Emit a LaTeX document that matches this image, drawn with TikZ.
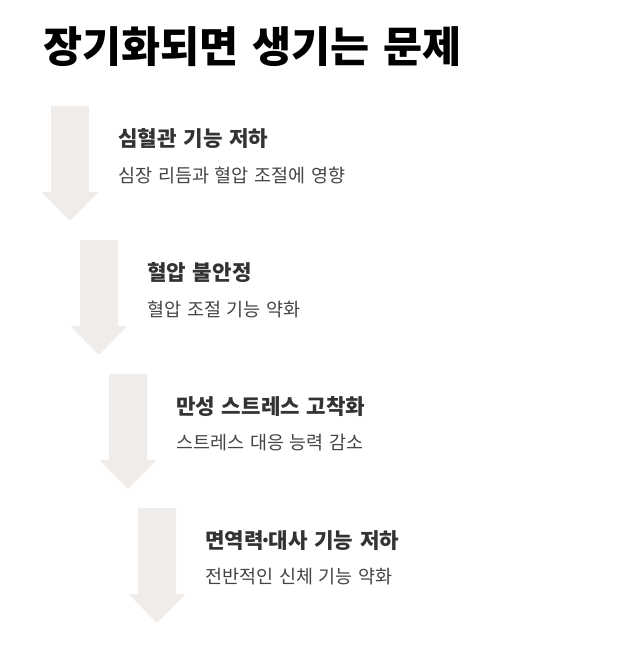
\documentclass[tikz,border=0pt]{standalone}
\usepackage{fontspec}
\setmainfont{Noto Sans CJK KR}[WordSpace=1.4]
\usepackage{tikz}
\usetikzlibrary{positioning}
\definecolor{arrowgray}{RGB}{239, 236, 234}
\definecolor{headgray}{RGB}{51, 51, 51}
\definecolor{subgray}{RGB}{68, 68, 68}
\tikzset{
    stepdown/.pic={
        \fill[arrowgray] (-19,0) -- (19,0) -- (19,86) -- (28.5,86) -- (0,115) -- (-28.5,86) -- (-19,86) -- cycle;
    }
}

\begin{document}
\begin{tikzpicture}[
    x=1pt, y=-1pt,
    title/.style={anchor=west, inner sep=0pt, font=\fontsize{42.5}{50}\selectfont\bfseries, text=black},
    head/.style={anchor=west, inner sep=0pt, font=\fontsize{21.2}{25}\selectfont\bfseries, text=headgray},
    sub/.style={anchor=west, inner sep=0pt, font=\fontsize{18.5}{22}\selectfont, text=subgray}
]
    \useasboundingbox (0,0) rectangle (644,648);

    % Title
    \node[title] (ttl) at (43,47) {장기화되면 생기는 문제};

    % Step 1
    \pic at (70,106) {stepdown};
    \node[head] (h1) at (118,138.5) {심혈관 기능 저하};
    \node[sub, below=36.5pt of h1.west, anchor=west] (s1) {심장 리듬과 혈압 조절에 영향};

    % Step 2
    \pic at (99,240) {stepdown};
    \node[head] (h2) at (147,272.5) {혈압 불안정};
    \node[sub, below=36.5pt of h2.west, anchor=west] (s2) {혈압 조절 기능 약화};

    % Step 3
    \pic at (128,374) {stepdown};
    \node[head] (h3) at (176,406.5) {만성 스트레스 고착화};
    \node[sub, below=36.5pt of h3.west, anchor=west] (s3) {스트레스 대응 능력 감소};

    % Step 4
    \pic at (157,508) {stepdown};
    \node[head] (h4) at (205,540.5) {면역력\kern-4pt·\kern-4pt대사 기능 저하};
    \node[sub, below=36.5pt of h4.west, anchor=west] (s4) {전반적인 신체 기능 약화};

\end{tikzpicture}
\end{document}
